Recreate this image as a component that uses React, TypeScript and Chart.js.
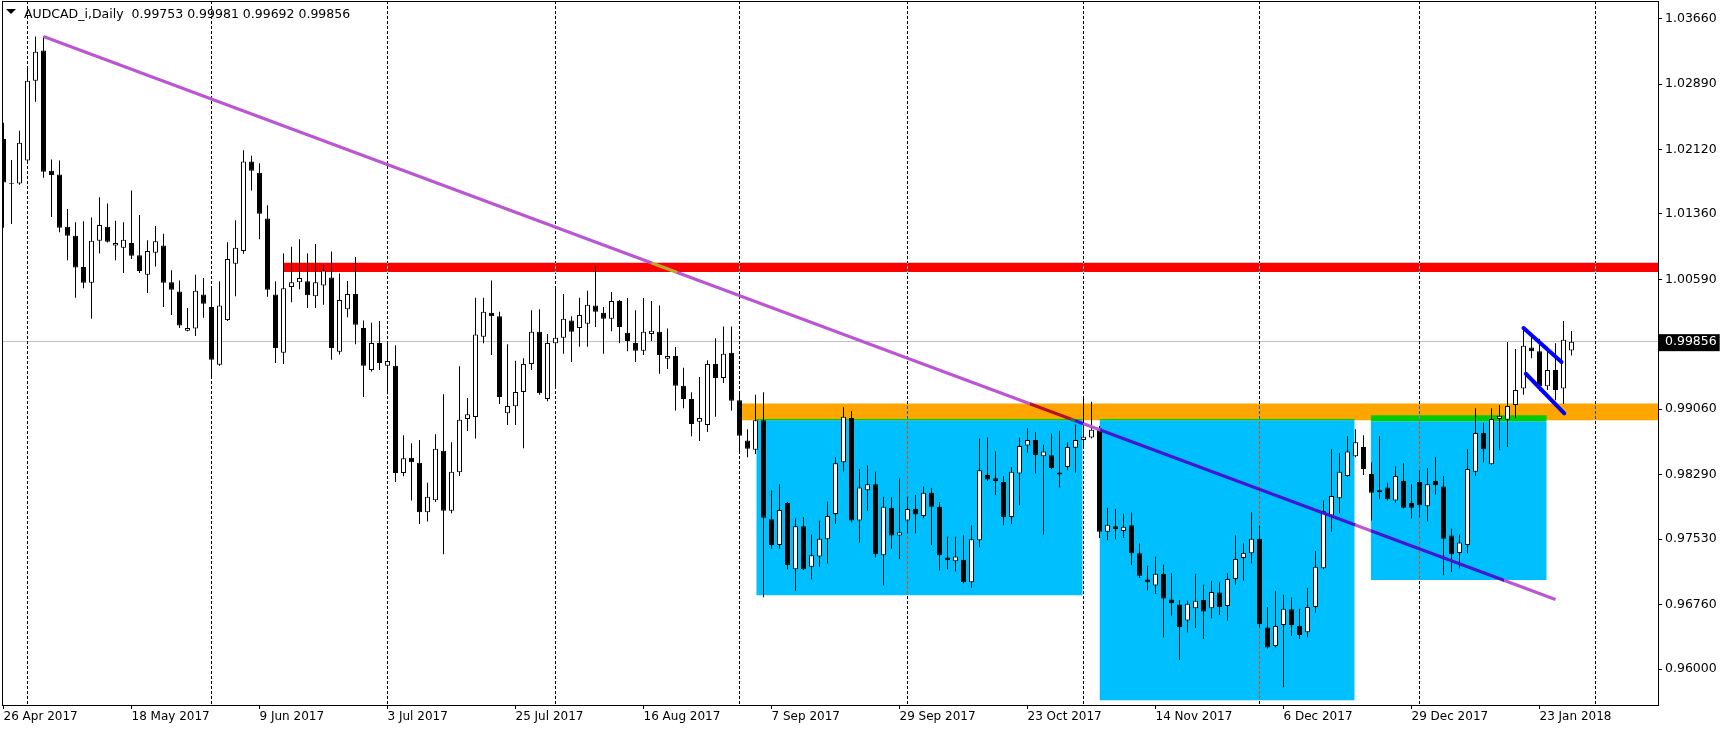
import React, { useEffect, useRef } from 'react';
import { Chart, registerables } from 'chart.js';

Chart.register(...registerables);

// ---------- data (daily AUDCAD bars, index 0 = 26 Apr 2017) ----------
const opens = [1.02243,1.01715,1.01720,1.01990,1.02929,1.03287,1.01869,1.01825,1.01209,1.01105,
1.00737,1.00550,1.01045,1.01209,1.00990,1.00962,1.01018,1.00874,1.00643,1.00902,
1.00990,1.00556,1.00446,0.99984,1.00012,1.00413,1.00264,0.99583,1.00110,1.00775,
1.00924,1.01979,1.01847,1.01308,1.00413,0.99726,1.00501,1.00556,1.00567,1.00391,
1.00517,1.00611,0.99737,1.00237,1.00418,1.00017,0.99523,0.99841,0.99572,0.99572,
0.98308,0.98489,0.98429,0.97847,0.97989,0.98572,0.97863,0.98319,0.98946,0.98968,
0.99913,1.00198,1.00154,0.99012,0.99094,0.99264,0.99594,0.99973,0.99182,0.99836,
0.99902,1.00105,1.00017,1.00067,1.00281,1.00198,1.00127,1.00336,0.99962,0.99841,
0.99748,0.99946,0.99973,0.99654,0.99687,0.99336,0.99182,0.98913,0.98874,0.99594,
0.99429,0.99726,0.99165,0.98693,0.98583,0.98929,0.97764,0.97462,0.97956,0.97176,
0.97682,0.97204,0.97325,0.97528,0.97825,0.98435,0.98957,0.97748,0.98105,0.98176,
0.97341,0.97901,0.97572,0.97748,0.97885,0.97803,0.98077,0.97912,0.97314,0.97270,
0.97286,0.97022,0.97517,0.98286,0.98248,0.98204,0.97792,0.98303,0.98632,0.98698,
0.98506,0.98517,0.98314,0.98380,0.98605,0.98698,0.98726,0.98836,0.97616,0.97682,
0.97627,0.97693,0.97363,0.97055,0.96984,0.97121,0.96819,0.96759,0.96572,0.96715,
0.96813,0.96715,0.96901,0.96742,0.97061,0.97308,0.97363,0.97533,0.96489,0.96270,
0.96517,0.96704,0.96511,0.96434,0.96731,0.97187,0.97808,0.98011,0.98275,0.98506,
0.98616,0.98297,0.98105,0.98138,0.97984,0.98215,0.97956,0.98204,0.97918,0.98215,
0.98149,0.97572,0.97368,0.97462,0.98325,0.98781,0.98413,0.98946,0.98935,0.99110,
0.99303,0.99786,0.99742,0.99330,0.99523,0.99303,0.99753];

const highs = [1.02435,1.01995,1.02341,1.03078,1.03451,1.03451,1.02001,1.01990,1.01418,1.01264,
1.01275,1.01319,1.01556,1.01484,1.01281,1.01264,1.01638,1.01347,1.01050,1.01220,
1.01127,1.00698,1.00578,1.00253,1.00643,1.00605,1.00479,1.00567,1.01028,1.01286,
1.02111,1.02045,1.01957,1.01462,1.00567,1.00896,1.00973,1.01061,1.00896,1.01006,
1.00770,1.00918,1.00660,1.00572,1.00852,1.00105,1.00078,1.00099,0.99836,0.99814,
0.98753,0.98660,0.98698,0.98193,0.98764,0.99237,0.98671,0.99567,0.99193,1.00374,
1.00374,1.00578,1.00209,0.99825,0.99632,0.99660,1.00226,1.00237,0.99946,1.00484,
1.00418,1.00154,1.00374,1.00457,1.00742,1.00264,1.00440,1.00347,1.00369,1.00226,
1.00369,1.00336,1.00281,1.00012,0.99792,0.99550,0.99259,0.99440,0.99638,0.99896,
1.00034,1.00034,0.99259,0.98825,0.99231,0.99259,0.98105,0.98176,0.97967,0.97775,
0.97792,0.97583,0.97748,0.97973,0.98495,0.99083,0.99039,0.98357,0.98396,0.98325,
0.98028,0.98022,0.98248,0.98028,0.98050,0.98149,0.98132,0.97967,0.97561,0.97561,
0.97572,0.97693,0.98715,0.98726,0.98561,0.98270,0.98380,0.98726,0.98836,0.98792,
0.98643,0.98770,0.98808,0.98671,0.98880,0.99193,0.99149,0.98863,0.97901,0.97885,
0.97830,0.97847,0.97478,0.97215,0.97325,0.97231,0.97132,0.96813,0.96803,0.97121,
0.96995,0.97039,0.97022,0.97132,0.97572,0.97478,0.97847,0.97693,0.96731,0.96923,
0.96874,0.96841,0.96709,0.96956,0.97390,0.97984,0.98588,0.98544,0.98742,0.98825,
0.98753,0.98435,0.98742,0.98193,0.98385,0.98424,0.98176,0.98341,0.98369,0.98495,
0.98275,0.97654,0.97583,0.98588,0.99072,0.98902,0.99072,0.99110,0.99852,0.99770,
1.00028,0.99962,0.99891,0.99797,0.99836,1.00099,0.99981];

const lows = [1.01198,1.01242,1.01704,1.01979,1.02682,1.01786,1.01325,1.01144,1.00814,1.00374,
1.00484,1.00127,1.00896,1.01023,1.00814,1.00665,1.00830,1.00665,1.00429,1.00742,
1.00264,1.00171,1.00017,0.99979,0.99924,1.00138,0.99451,0.99572,1.00099,1.00391,
1.00891,1.01638,1.01061,1.00385,0.99605,0.99594,1.00319,1.00473,1.00253,1.00253,
1.00292,0.99643,0.99704,1.00143,0.99825,0.99204,0.99506,0.99523,0.99237,0.98204,
0.98270,0.97984,0.97709,0.97737,0.97967,0.97352,0.97836,0.98275,0.98803,0.98715,
0.99836,0.99698,0.99121,0.98874,0.98874,0.98599,0.99523,0.99231,0.99154,0.99314,
0.99715,0.99616,0.99797,0.99797,1.00028,0.99715,0.99979,0.99836,0.99742,0.99616,
0.99698,0.99863,0.99478,0.99533,0.99044,0.99072,0.98742,0.98687,0.98792,0.98973,
0.99369,0.99044,0.98533,0.98495,0.98533,0.96846,0.97418,0.97418,0.97176,0.96923,
0.97165,0.97055,0.97204,0.97242,0.97709,0.98325,0.97726,0.97489,0.97863,0.97314,
0.96984,0.97418,0.97297,0.97599,0.97599,0.97775,0.97462,0.97160,0.97176,0.97149,
0.97011,0.96956,0.97434,0.98215,0.98050,0.97693,0.97709,0.97929,0.98550,0.98303,
0.97583,0.98357,0.98138,0.98341,0.98314,0.98605,0.98715,0.97544,0.97517,0.97528,
0.97544,0.97226,0.97072,0.96929,0.96885,0.96374,0.96626,0.96105,0.96434,0.96484,
0.96352,0.96599,0.96637,0.96572,0.96995,0.97039,0.97242,0.96489,0.96242,0.96253,
0.95786,0.96390,0.96352,0.96374,0.96665,0.97176,0.97616,0.97836,0.98264,0.98495,
0.98286,0.97748,0.98000,0.97984,0.97956,0.97890,0.97775,0.97792,0.97737,0.98055,
0.97105,0.97143,0.97187,0.97363,0.98275,0.98435,0.98407,0.98577,0.98616,0.98957,
0.99231,0.99660,0.99275,0.99286,0.99165,0.99121,0.99692];

const closes = [1.01732,1.01726,1.02199,1.02929,1.03270,1.01858,1.01819,1.01198,1.01105,1.00731,
1.00550,1.01045,1.01231,1.01034,1.01018,1.01056,1.00869,1.00687,1.00924,1.01039,
1.00550,1.00468,1.00045,1.00017,1.00457,1.00303,0.99643,1.00281,1.00830,1.00962,
1.01979,1.01869,1.01363,1.00468,0.99781,1.00484,1.00556,1.00605,1.00402,1.00556,
1.00693,0.99781,1.00347,1.00418,1.00056,0.99572,0.99841,0.99605,0.99627,0.98308,
0.98484,0.98435,0.97847,0.98028,0.98594,0.97863,0.98325,0.98935,0.99001,0.99940,
1.00209,1.00154,0.99204,0.99099,0.99264,0.99594,0.99973,0.99248,0.99841,0.99902,
1.00127,0.99973,1.00171,1.00292,1.00209,1.00127,1.00336,1.00028,0.99863,0.99748,
0.99973,0.99984,0.99698,0.99687,0.99336,0.99182,0.98885,0.98957,0.99594,0.99429,
0.99715,0.99160,0.98748,0.98594,0.98929,0.97781,0.97462,0.97874,0.97226,0.97682,
0.97176,0.97341,0.97533,0.97803,0.98424,0.98973,0.97748,0.98138,0.98176,0.97352,
0.97912,0.97572,0.97610,0.97885,0.97819,0.98077,0.97912,0.97341,0.97281,0.97325,
0.97022,0.97528,0.98341,0.98231,0.98215,0.97792,0.98325,0.98627,0.98698,0.98522,
0.98561,0.98369,0.98292,0.98616,0.98698,0.98737,0.98819,0.97616,0.97698,0.97649,
0.97676,0.97363,0.97099,0.97022,0.97121,0.96830,0.96775,0.96495,0.96770,0.96803,
0.96676,0.96907,0.96731,0.97061,0.97297,0.97368,0.97533,0.96528,0.96253,0.96506,
0.96709,0.96517,0.96401,0.96731,0.97204,0.97858,0.98039,0.98325,0.98561,0.98671,
0.98357,0.98077,0.98083,0.98000,0.98275,0.97901,0.97901,0.97929,0.98176,0.98165,
0.97533,0.97352,0.97489,0.98357,0.98781,0.98588,0.98946,0.98984,0.99099,0.99286,
0.99808,0.99742,0.99330,0.99523,0.99286,0.99880,0.99856];

// date axis labels (bar index of each label)
const xTickIndex = [0, 16, 32, 48, 64, 80, 96, 112, 128, 144, 160, 176, 192];
const xTickLabels = ['26 Apr 2017', '18 May 2017', '9 Jun 2017', '3 Jul 2017', '25 Jul 2017',
  '16 Aug 2017', '7 Sep 2017', '29 Sep 2017', '23 Oct 2017', '14 Nov 2017', '6 Dec 2017',
  '29 Dec 2017', '23 Jan 2018'];
// first bar of each month (period separators)
const monthStartIndex = [3, 26, 48, 69, 92, 113, 135, 157, 177, 199];

// price axis
const priceTicks = [0.96, 0.9676, 0.9753, 0.9829, 0.9906, 0.99856, 1.0059, 1.0136, 1.0212, 1.0289, 1.0366];
const lastPrice = 0.99856;

// drawn objects: [barFrom, barTo, priceTop, priceBottom]
const resistanceZone = [35, 215, 1.00786, 1.00676];
const supportZone = [92.3, 215, 0.99127, 0.98929];
const rangeBoxes = [
  [94.1, 134.9, 0.98929, 0.96868],
  [137, 168.9, 0.98929, 0.95632],
  [170.9, 192.9, 0.98918, 0.97049],
];
const rangeBoxCaps = [
  [94.1, 134.9, 0.98945, 0.98929],
  [137, 168.9, 0.98945, 0.98929],
  [170.9, 192.9, 0.98989, 0.98918],
];
// lines: [bar, price]
const trendLine = [[5, 1.03451], [194, 0.96819]];
const flagUpper = [[190, 1.00017], [194.75, 0.99616]];
const flagLower = [[190.3, 0.99478], [195.1, 0.99011]];

// ---------- presentation ----------
const X_MIN = -0.1875;
const X_MAX = 206.8125;
const Y_MIN = 0.95576;
const Y_MAX = 1.03869;
const FONT = "'DejaVu Sans', Verdana, sans-serif";

const RED = '#FF0000';
const ORANGE = '#FFA500';
const SKY = '#00BFFF';
const GREEN = '#00CC00';
const PURPLE = '#BA55D3';
const FLAG = '#0000FF';

function rgbOf(hex: string) {
  const n = parseInt(hex.slice(1), 16);
  return [(n >> 16) & 255, (n >> 8) & 255, n & 255];
}
function notXor(a: string, b: string) {
  const A = rgbOf(a), B = rgbOf(b);
  return `rgb(${255 - (A[0] ^ B[0])},${255 - (A[1] ^ B[1])},${255 - (A[2] ^ B[2])})`;
}

export default function App() {
  const ref = useRef<HTMLCanvasElement>(null);

  useEffect(() => {
    const canvas = ref.current;
    if (!canvas) return;
    Chart.defaults.font.family = FONT;
    Chart.defaults.font.size = 12;

    const layers = [
      { z: resistanceZone, color: RED },
      { z: supportZone, color: ORANGE },
      ...rangeBoxes.map((z) => ({ z, color: SKY })),
      ...rangeBoxCaps.map((z) => ({ z, color: GREEN })),
    ];
    const topLayerAt = (x: number, p: number) => {
      for (let k = layers.length - 1; k >= 0; k--) {
        const [x0, x1, top, bot] = layers[k].z;
        if (x >= x0 && x <= x1 && p <= top && p >= bot) return layers[k];
      }
      return null;
    };
    const blendGradient = (chart: any, a: number[], b: number[], base: string) => {
      const xs = chart.scales.x, ys = chart.scales.y;
      if (!xs || !ys || !chart.chartArea) return base;
      const ax = xs.getPixelForValue(a[0]), ay = ys.getPixelForValue(a[1]);
      const bx = xs.getPixelForValue(b[0]), by = ys.getPixelForValue(b[1]);
      const g = chart.ctx.createLinearGradient(ax, ay, bx, by);
      const n = Math.max(2, Math.ceil(Math.hypot(bx - ax, by - ay)));
      let prev: string | null = null;
      for (let k = 0; k <= n; k++) {
        const t = k / n;
        const v = a[0] + (b[0] - a[0]) * t;
        const p = a[1] + (b[1] - a[1]) * t;
        const layer = topLayerAt(v, p);
        const col = layer ? notXor(base, layer.color) : base;
        if (col !== prev) {
          if (prev !== null) g.addColorStop(t, prev);
          g.addColorStop(t, col);
          prev = col;
        }
      }
      g.addColorStop(1, prev as string);
      return g;
    };

    const zoneDataset = (z: number[], color: string, order: number) => ({
      type: 'line',
      data: [{ x: z[0], y: z[2] }, { x: z[1], y: z[2] }],
      fill: { value: z[3] },
      backgroundColor: color,
      borderColor: 'rgba(0,0,0,0)',
      borderWidth: 0,
      pointRadius: 0,
      pointHoverRadius: 0,
      tension: 0,
      order,
    });

    const lineDataset = (pts: number[][], base: string, width: number, order: number, blend: boolean, dash?: number[]) => ({
      type: 'line',
      data: pts.map((p) => ({ x: p[0], y: p[1] })),
      borderColor: blend ? (c: any) => blendGradient(c.chart, pts[0], pts[1], base) : base,
      borderWidth: width,
      borderDash: dash || [],
      borderCapStyle: 'round',
      fill: false,
      pointRadius: 0,
      pointHoverRadius: 0,
      tension: 0,
      order,
    });

    const datasets: any[] = [
      zoneDataset(resistanceZone, RED, 30),
      zoneDataset(supportZone, ORANGE, 29),
      ...rangeBoxes.map((z) => zoneDataset(z, SKY, 28)),
      ...rangeBoxCaps.map((z) => zoneDataset(z, GREEN, 27)),
      ...monthStartIndex.map((m) => ({
        ...lineDataset([[m, Y_MAX], [m, Y_MIN]], '#000000', 1, 20, true, [3, 2]),
        borderCapStyle: 'butt',
      })),
      {
        type: 'bar',
        data: opens.map((_, i) => ({ x: i, y: [lows[i], highs[i]] })),
        backgroundColor: '#000000',
        borderWidth: 0,
        barThickness: 1,
        grouped: false,
        inflateAmount: 0,
        order: 10,
      },
      {
        type: 'bar',
        data: opens.map((o, i) => ({ x: i, y: [o, closes[i]] })),
        backgroundColor: (c: any) => (closes[c.dataIndex] >= opens[c.dataIndex] ? '#FFFFFF' : '#000000'),
        borderColor: '#000000',
        borderWidth: 1,
        borderSkipped: false,
        barThickness: 5,
        grouped: false,
        inflateAmount: 0,
        order: 9,
      },
      { ...lineDataset(trendLine, PURPLE, 3, 5, true), borderCapStyle: 'butt' },
      lineDataset(flagUpper, FLAG, 4, 4, false),
      lineDataset(flagLower, FLAG, 4, 4, false),
    ];

    const framePlugin = {
      id: 'frame',
      afterDraw(chart: any) {
        const { ctx, chartArea } = chart;
        const { left, top, right, bottom } = chartArea;
        ctx.save();
        ctx.strokeStyle = '#000';
        ctx.lineWidth = 1;
        ctx.strokeRect(left + 0.5, top + 0.5, right - left, bottom - top);
        ctx.restore();
      },
    };

    const chart = new Chart(canvas, {
      type: 'bar',
      data: { datasets },
      plugins: [framePlugin],
      options: {
        responsive: false,
        animation: false,
        devicePixelRatio: 1,
        events: [],
        layout: { padding: { left: 2, top: 1, right: 0, bottom: 0 } },
        plugins: {
          legend: { display: false },
          tooltip: { enabled: false },
          title: { display: false },
        },
        scales: {
          x: {
            type: 'linear',
            min: X_MIN,
            max: X_MAX,
            offset: false,
            afterBuildTicks: (scale: any) => {
              scale.ticks = xTickIndex.map((v) => ({ value: v }));
            },
            afterFit: (scale: any) => {
              scale.height = 26;
              scale.paddingLeft = 0;
              scale.paddingRight = 0;
              scale.paddingTop = 0;
              scale.paddingBottom = 0;
            },
            ticks: {
              autoSkip: false,
              maxRotation: 0,
              minRotation: 0,
              align: 'start',
              padding: 1,
              color: '#000',
              font: { family: FONT, size: 12 },
              callback: (v: any) => {
                const k = xTickIndex.indexOf(Number(v));
                return k >= 0 ? xTickLabels[k] : '';
              },
            },
            grid: {
              offset: false,
              drawOnChartArea: false,
              drawTicks: true,
              tickLength: 4,
              tickColor: '#000',
              color: '#000',
            },
            border: { display: false },
          },
          y: {
            type: 'linear',
            position: 'right',
            min: Y_MIN,
            max: Y_MAX,
            beginAtZero: false,
            afterBuildTicks: (scale: any) => {
              scale.ticks = priceTicks.map((v) => ({ value: v }));
            },
            afterFit: (scale: any) => {
              scale.width = 68;
              scale.paddingLeft = 0;
              scale.paddingRight = 0;
              scale.paddingTop = 0;
              scale.paddingBottom = 0;
            },
            ticks: {
              autoSkip: false,
              padding: 3,
              font: { family: FONT, size: 12.5 },
              color: (c: any) => (c.tick && c.tick.value === lastPrice ? '#FFFFFF' : '#000000'),
              showLabelBackdrop: (c: any) => !!(c.tick && c.tick.value === lastPrice),
              backdropColor: '#000000',
              backdropPadding: { left: 6, right: 3, top: 0, bottom: 2 },
              callback: (v: any) => Number(v).toFixed(5),
            },
            grid: {
              drawOnChartArea: true,
              drawTicks: true,
              tickLength: 4,
              tickColor: '#000',
              color: (c: any) => (c.tick && c.tick.value === lastPrice ? '#C0C0C0' : 'rgba(0,0,0,0)'),
            },
            border: { display: false },
          },
        },
      } as any,
    } as any);

    return () => chart.destroy();
  }, []);

  const last = opens.length - 1;
  const title = `AUDCAD_i,Daily  ${opens[last].toFixed(5)} ${highs[last].toFixed(5)} ${lows[last].toFixed(5)} ${closes[last].toFixed(5)}`;

  return (
    <div style={{ position: 'absolute', left: 0, top: 0, width: 1726, height: 731, background: '#fff', overflow: 'hidden' }}>
      <canvas ref={ref} width={1726} height={731} style={{ display: 'block', width: 1726, height: 731 }} />
      <div
        style={{
          position: 'absolute', left: 6, top: 9, width: 0, height: 0,
          borderLeft: '5px solid transparent', borderRight: '5px solid transparent', borderTop: '5px solid #000',
        }}
      />
      <div
        style={{
          position: 'absolute', left: 24, top: 7, fontFamily: FONT, fontSize: 12.5,
          lineHeight: '14px', whiteSpace: 'pre', color: '#000',
        }}
      >
        {title}
      </div>
    </div>
  );
}
